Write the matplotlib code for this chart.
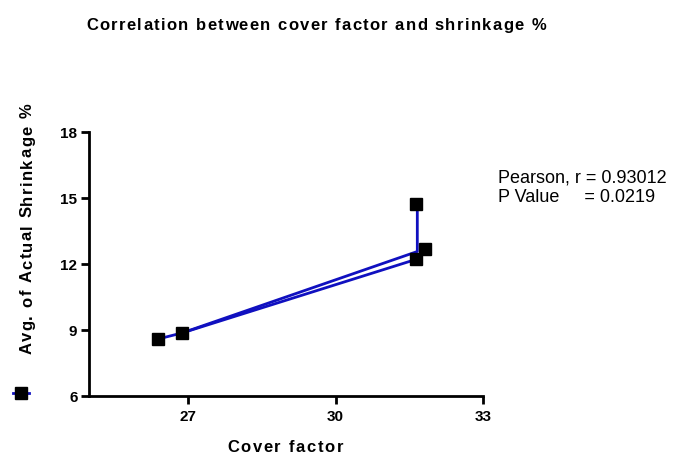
import matplotlib
matplotlib.use("Agg")
import matplotlib.pyplot as plt
from matplotlib import font_manager, ft2font
from matplotlib.font_manager import FontProperties
from matplotlib.lines import Line2D

FAMILY = "Liberation Sans"
plt.rcParams.update({"font.family": FAMILY, "font.size": 11})

# data
cover_factor = [26.4, 26.88, 31.63, 31.63, 31.81]
shrinkage = [8.59, 8.86, 14.71, 12.2, 12.68]

# connecting lines as drawn in the reference
path_a_x = [26.4, 26.88, 31.66, 31.66]
path_a_y = [8.59, 8.86, 12.56, 14.71]
path_b_x = [26.88, 31.63]
path_b_y = [8.86, 12.2]

x_ticks = [27, 30, 33]
y_ticks = [6, 9, 12, 15, 18]

LINE_COL = "#1010c0"
W, H, DPI = 686, 456, 100

fig = plt.figure(figsize=(W / DPI, H / DPI), dpi=DPI)
ax = fig.add_axes([89.3 / W, 1 - 397 / H, 394 / W, 264.3 / H])


def spaced_text(cx, cy, s, size, length, vertical=False, weight="bold"):
    """Letter-spaced text centred on (cx, cy) in pixels from top-left."""
    path = font_manager.findfont(FontProperties(family=FAMILY, weight=weight))
    font = ft2font.FT2Font(path)
    font.set_size(size, DPI)
    adv = [font.load_char(ord(c)).linearHoriAdvance / 65536 for c in s]
    gap = (length - sum(adv)) / (len(s) - 1)
    cap = 0.716 * size * DPI / 72
    pos = -length / 2
    for c, a in zip(s, adv):
        if vertical:
            x, y = cx + cap / 2, H - cy + pos
        else:
            x, y = cx + pos, H - cy - cap / 2
        fig.text(x / W, y / H, c, fontsize=size, fontweight=weight,
                 rotation=90 if vertical else 0, rotation_mode="anchor",
                 ha="left", va="baseline")
        pos += a + gap


ax.plot(path_a_x, path_a_y, color=LINE_COL, lw=2, zorder=2)
ax.plot(path_b_x, path_b_y, color=LINE_COL, lw=2, zorder=2)
ax.plot(cover_factor, shrinkage, "s", color="black", ms=8.5, zorder=3)

ax.set_xlim(25, 33)
ax.set_ylim(6, 18)
ax.set_xticks(x_ticks)
ax.set_yticks(y_ticks)
for s in ("top", "right"):
    ax.spines[s].set_visible(False)
for s in ("left", "bottom"):
    ax.spines[s].set_linewidth(2)
ax.tick_params(width=2, length=5.5, labelsize=11)
ax.tick_params(axis="y", pad=3)
ax.tick_params(axis="x", pad=4)
for lab in ax.get_xticklabels() + ax.get_yticklabels():
    lab.set_fontweight("bold")

spaced_text(316, 24, "Correlation between cover factor and shrinkage %", 12, 460)
spaced_text(285, 446, "Cover factor", 12, 116)
spaced_text(26, 229, "Avg. of Actual Shrinkage %", 12, 251, vertical=True)

fig.text(498 / W, 1 - 178 / H, "Pearson, r = 0.93012", ha="left",
         va="center", fontsize=13)
fig.text(498 / W, 1 - 198 / H, "P Value     = 0.0219", ha="left",
         va="center", fontsize=13)

# legend marker (left bottom)
handle = Line2D([], [], color=LINE_COL, lw=2, marker="s", mfc="black",
                mec="black", ms=8.5)
fig.legend([handle], [""], loc="center", bbox_to_anchor=(21 / W, 1 - 395 / H),
           frameon=False, handlelength=1.0, handletextpad=0)

fig.savefig("out.png", dpi=DPI)
